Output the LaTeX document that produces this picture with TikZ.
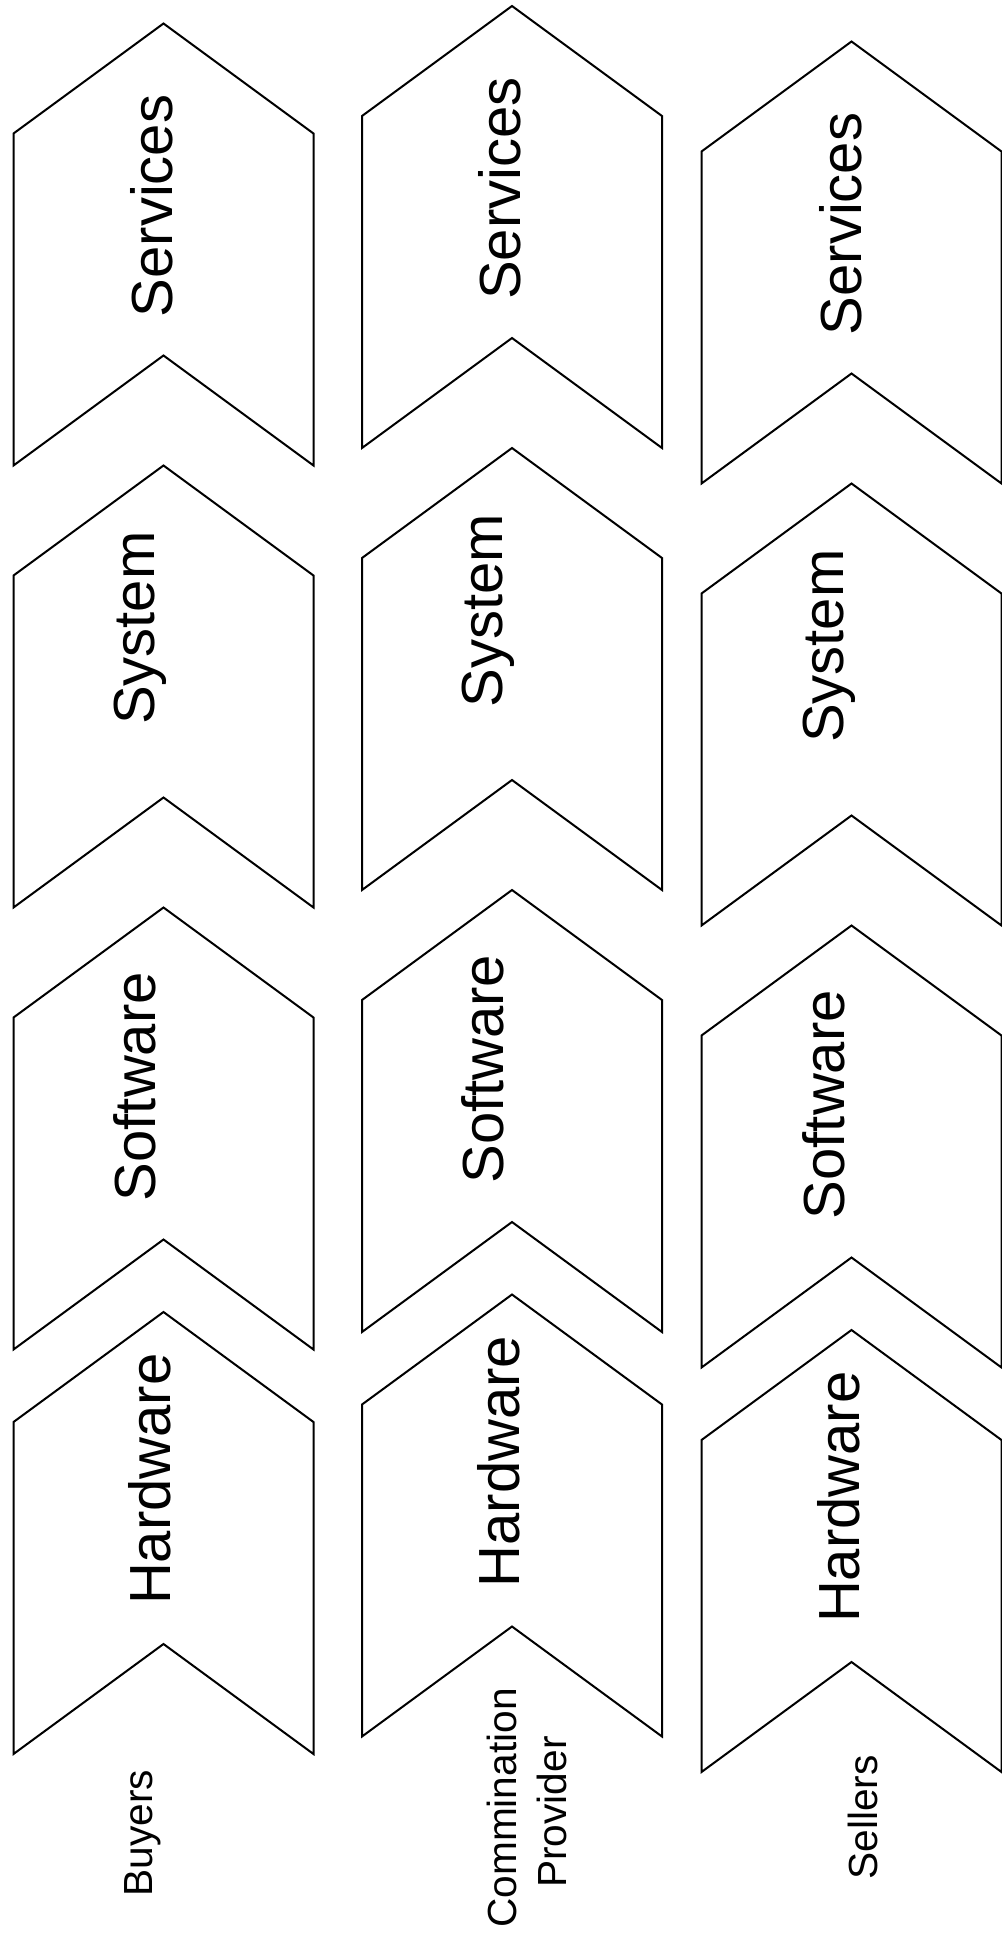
\documentclass[tikz,border=0pt]{standalone}
\usepackage{fontspec}
\setmainfont{Liberation Sans}
\newcommand{\chevshape}[2]{%
  \draw[chev] (#1,#2) -- ++(150,110) -- ++(0,332) -- ++(-150,-110) -- ++(-150,110) -- ++(0,-332) -- cycle;}
\begin{document}
\begin{tikzpicture}[x=0.75pt,y=-0.75pt,
  chev/.style={draw=black,fill=white,line width=1.5pt,line join=miter},
  bigtxt/.style={inner sep=0pt,anchor=base,rotate=90,font=\fontsize{43.5}{52}\selectfont},
  smalltxt/.style={inner sep=0pt,anchor=base,rotate=90,font=\fontsize{30.5}{37}\selectfont}]
\useasboundingbox[fill=white] (0,0) rectangle (1002,1941);
% column 1: Buyers
\chevshape{163.5}{23.5}
\chevshape{163.5}{465.5}
\chevshape{163.5}{907.5}
\chevshape{163.5}{1312}
\node[bigtxt] (b-serv) at (172,206) {Services};
\node[bigtxt] (b-sys) at (154,628.3) {System};
\node[bigtxt] (b-soft) at (155,1086.7) {Software};
\node[bigtxt] (b-hard) at (170.5,1479.2) {Hardware};
\node[smalltxt] (buyers) at (152,1833) {Buyers};
% column 2: Commination Provider
\chevshape{512}{6}
\chevshape{512}{448}
\chevshape{512}{890}
\chevshape{512}{1294.5}
\node[bigtxt] (c-serv) at (520.5,188.5) {Services};
\node[bigtxt] (c-sys) at (502.5,610.8) {System};
\node[bigtxt] (c-soft) at (503.5,1069.2) {Software};
\node[bigtxt] (c-hard) at (519,1461.7) {Hardware};
\node[smalltxt] (comm1) at (516.7,1808) {Commination};
\node[smalltxt] (comm2) at (566.7,1812) {Provider};
% column 3: Sellers
\chevshape{851.5}{41.5}
\chevshape{851.5}{483.5}
\chevshape{851.5}{925.5}
\chevshape{851.5}{1330}
\node[bigtxt] (s-serv) at (861,224) {Services};
\node[bigtxt] (s-sys) at (843,646.3) {System};
\node[bigtxt] (s-soft) at (844,1104.7) {Software};
\node[bigtxt] (s-hard) at (859.5,1497.2) {Hardware};
\node[smalltxt] (sellers) at (877.3,1817.5) {Sellers};
\end{tikzpicture}
\end{document}
